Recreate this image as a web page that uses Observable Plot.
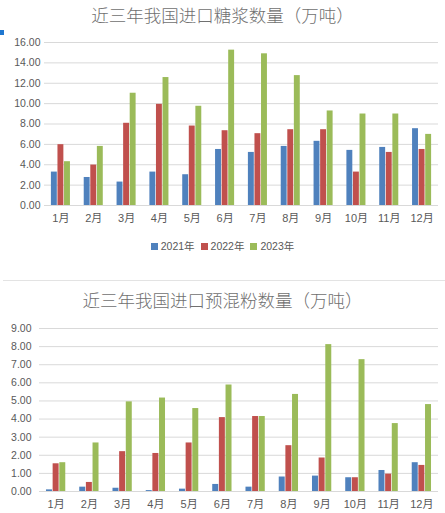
<!DOCTYPE html>
<html><head><meta charset="utf-8">
<script src="https://cdn.jsdelivr.net/npm/d3@7"></script>
<script src="https://cdn.jsdelivr.net/npm/@observablehq/plot@0.6"></script>
<style>
body{margin:0;width:445px;height:513px;background:#fff;position:relative;overflow:hidden;font-family:"Liberation Sans","Noto Sans CJK SC",sans-serif;}
.title{position:absolute;left:0;width:445px;text-align:center;color:#707070;font-family:"Noto Sans CJK SC",sans-serif;font-size:17.5px;line-height:20px;font-weight:300;}
.chart{position:absolute;left:0;}
#legend{position:absolute;top:239px;left:0;width:445px;display:flex;justify-content:center;gap:6px;font-size:10.5px;color:#595959;line-height:14px;}
#legend span.sw{display:inline-block;width:7px;height:7px;margin-right:3px;vertical-align:0px;}
#sep{position:absolute;top:280px;left:3px;width:442px;height:0;border-top:1px solid #e3e3e3;}
#mark{position:absolute;left:0;top:30px;width:4px;height:5px;background:#1f77d0;}
</style></head><body>
<div id="mark"></div>
<div class="title" style="top:5px">近三年我国进口糖浆数量（万吨）</div>
<div class="chart" id="c1" style="top:30px"></div>
<div id="legend"></div>
<div id="sep"></div>
<div class="title" style="top:290px">近三年我国进口预混粉数量（万吨）</div>
<div class="chart" id="c2" style="top:318px"></div>
<script>
const months = ["1月","2月","3月","4月","5月","6月","7月","8月","9月","10月","11月","12月"];
const years = ["2021年","2022年","2023年"];
const colors = ["#4F81BD","#C0504D","#9BBB59"];

// 糖浆
const syrup2021 = [3.28,2.75,2.30,3.28,3.02,5.50,5.21,5.80,6.30,5.41,5.70,7.54];
const syrup2022 = [5.97,3.97,8.07,9.93,7.80,7.34,7.05,7.44,7.44,3.28,5.21,5.50];
const syrup2023 = [4.30,5.80,11.02,12.56,9.74,15.25,14.89,12.75,9.28,8.98,8.98,6.98];
const syrupTicks = [0,2,4,6,8,10,12,14,16];

// 预混粉
const premix2021 = [0.09,0.24,0.18,0.05,0.13,0.39,0.24,0.80,0.85,0.76,1.16,1.59];
const premix2022 = [1.53,0.50,2.20,2.10,2.68,4.08,4.14,2.53,1.85,0.76,0.96,1.44];
const premix2023 = [1.59,2.68,4.95,5.16,4.58,5.88,4.14,5.36,8.11,7.28,3.75,4.80];
const premixTicks = [0,1,2,3,4,5,6,7,8,9];

function chart(series, ticks, o) {
  const data = [];
  series.forEach((vals, k) => vals.forEach((v, i) => data.push({i, k, v, year: years[k]})));
  const yMax = ticks[ticks.length - 1];
  return Plot.plot({
    width: 445, height: o.height,
    marginLeft: o.marginLeft, marginRight: o.marginRight, marginTop: o.marginTop, marginBottom: o.marginBottom,
    x: {domain: [0, 12], axis: null, label: null},
    y: {domain: [0, yMax], axis: null, label: null},
    color: {domain: years, range: colors},
    style: {fontFamily: '"Liberation Sans","Noto Sans CJK SC",sans-serif', background: "transparent"},
    marks: [
      Plot.gridY(ticks, {stroke: "#d9d9d9", strokeOpacity: 1}),
      Plot.rect(data, {
        x1: d => d.i + 0.2 + d.k * 0.2 + 0.01,
        x2: d => d.i + 0.2 + d.k * 0.2 + 0.19,
        y1: d => 0, y2: "v", fill: "year"
      }),
      Plot.axisY(ticks, {label: null, tickSize: 0, tickPadding: o.yPad, tickFormat: d3.format(".2f"), fill: "#595959", fontSize: 10.5}),
      Plot.axisX(d3.range(12).map(i => i + 0.5), {label: null, tickSize: 0, tickPadding: o.xPad, tickFormat: d => months[Math.floor(d)], fill: "#595959", fontSize: 11})
    ]
  });
}

document.getElementById("c1").append(chart([syrup2021, syrup2022, syrup2023], syrupTicks,
  {height: 200, marginLeft: 44, marginRight: 7, marginTop: 12, marginBottom: 25, yPad: 4, xPad: 9}));
document.getElementById("c2").append(chart([premix2021, premix2022, premix2023], premixTicks,
  {height: 195, marginLeft: 39, marginRight: 7, marginTop: 10, marginBottom: 22, yPad: 8, xPad: 9}));

const legend = document.getElementById("legend");
years.forEach((y, k) => {
  const item = document.createElement("div");
  item.innerHTML = `<span class="sw" style="background:${colors[k]}"></span>${y}`;
  legend.append(item);
});
</script>
</body></html>
